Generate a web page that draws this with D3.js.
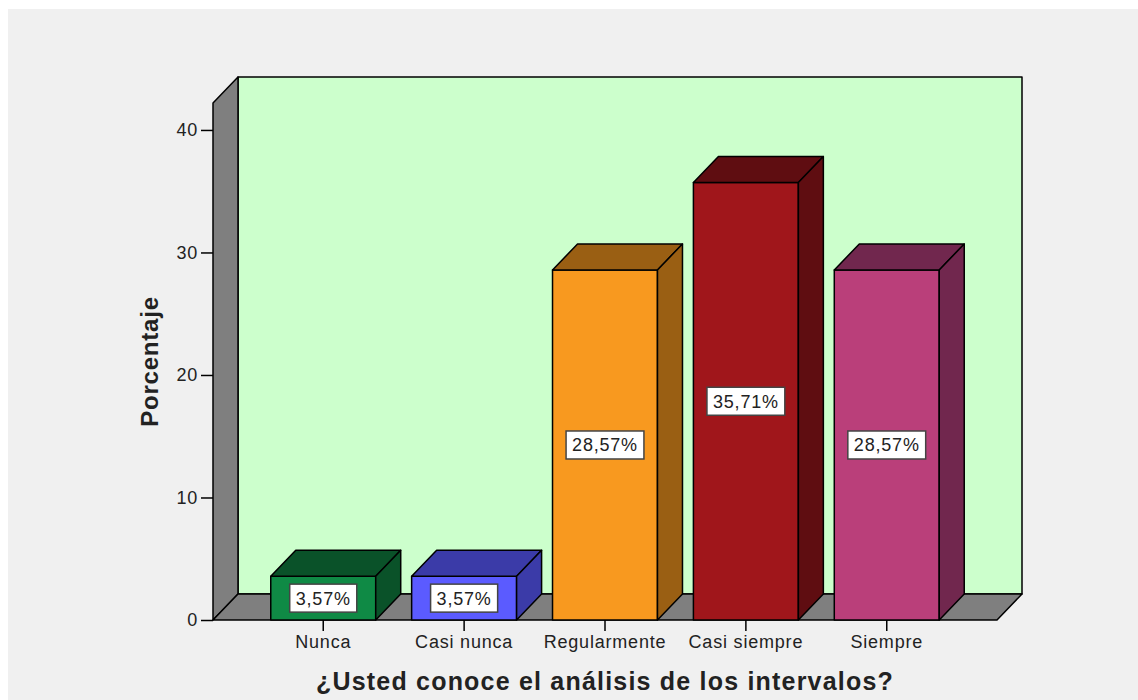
<!DOCTYPE html>
<html>
<head>
<meta charset="utf-8">
<script src="https://cdn.jsdelivr.net/npm/d3@7"></script>
<style>
  body { margin: 0; background: #ffffff; }
  svg text { font-family: 'Liberation Sans', Arial, sans-serif; fill: #222; }
</style>
</head>
<body>
<svg class="chart"></svg>
<script>
// data
let categories = ['Nunca', 'Casi nunca', 'Regularmente', 'Casi siempre', 'Siempre'];
let percentages = [3.57, 3.57, 28.57, 35.71, 28.57];
let valueLabels = ['3,57%', '3,57%', '28,57%', '35,71%', '28,57%'];
let yTicks = [0, 10, 20, 30, 40];
let yTitle = 'Porcentaje';
let xTitle = '¿Usted conoce el análisis de los intervalos?';

let frontColors = ['#0f8a45', '#5b5bff', '#f8991f', '#a0161b', '#ba3f7a'];
let sideColors = ['#0a5229', '#3b3ba8', '#9a5f13', '#5f0d11', '#71274e'];

let width = 1138, height = 700;
let plot = {left: 213, right: 997, bottom: 620, top: 103};
let depth = {dx: 25, dy: 26};

let svg = d3.select('.chart')
  .attr('width', width)
  .attr('height', height);

// grey panel
svg.append('rect')
  .attr('x', 8).attr('y', 9)
  .attr('width', width - 8).attr('height', height - 9)
  .attr('fill', '#f0f0f0');

let xScale = d3.scaleBand()
  .domain(categories)
  .range([plot.left, plot.right])
  .paddingInner(0.255)
  .paddingOuter(0.41);

let yScale = d3.scaleLinear()
  .domain([0, 42.2])
  .range([plot.bottom, plot.top]);

let y0 = yScale(0), yTop = yScale(42.2);
let pts = (arr) => arr.map((p) => p.join(',')).join(' ');

// walls
let walls = svg.append('g').attr('class', 'walls')
  .attr('stroke', '#000').attr('stroke-width', 1.5).attr('stroke-linejoin', 'round');

walls.append('rect')
  .attr('x', plot.left + depth.dx).attr('y', yTop - depth.dy)
  .attr('width', plot.right - plot.left).attr('height', y0 - yTop)
  .attr('fill', '#ccffcc');

walls.append('polygon')
  .attr('points', pts([[plot.left, y0], [plot.left, yTop], [plot.left + depth.dx, yTop - depth.dy], [plot.left + depth.dx, y0 - depth.dy]]))
  .attr('fill', '#7f7f7f');

walls.append('polygon')
  .attr('points', pts([[plot.left, y0], [plot.right, y0], [plot.right + depth.dx, y0 - depth.dy], [plot.left + depth.dx, y0 - depth.dy]]))
  .attr('fill', '#7f7f7f');

// 3d bars
let bars = svg.append('g').attr('class', 'bars')
  .selectAll('.bar')
  .data(categories)
  .enter()
  .append('g')
  .attr('class', 'bar')
  .attr('stroke', '#000').attr('stroke-width', 1.5).attr('stroke-linejoin', 'round');

bars.append('rect')
  .attr('x', (d) => xScale(d))
  .attr('y', (d, i) => yScale(percentages[i]))
  .attr('width', xScale.bandwidth())
  .attr('height', (d, i) => y0 - yScale(percentages[i]))
  .attr('fill', (d, i) => frontColors[i]);

bars.append('polygon')
  .attr('points', (d, i) => {
    let x0 = xScale(d), x1 = x0 + xScale.bandwidth(), yt = yScale(percentages[i]);
    return pts([[x0, yt], [x0 + depth.dx, yt - depth.dy], [x1 + depth.dx, yt - depth.dy], [x1, yt]]);
  })
  .attr('fill', (d, i) => sideColors[i]);

bars.append('polygon')
  .attr('points', (d, i) => {
    let x1 = xScale(d) + xScale.bandwidth(), yt = yScale(percentages[i]);
    return pts([[x1, yt], [x1 + depth.dx, yt - depth.dy], [x1 + depth.dx, y0 - depth.dy], [x1, y0]]);
  })
  .attr('fill', (d, i) => sideColors[i]);

// value labels in white boxes
let labels = svg.append('g').attr('class', 'labels')
  .selectAll('.value-label')
  .data(categories)
  .enter()
  .append('g')
  .attr('class', 'value-label')
  .attr('transform', (d, i) => 'translate(' + (xScale(d) + xScale.bandwidth() / 2) + ',' + ((yScale(percentages[i]) + y0) / 2) + ')');

let rects = labels.append('rect')
  .attr('fill', '#fff')
  .attr('stroke', '#444')
  .attr('stroke-width', 1.5);

labels.append('text')
  .attr('text-anchor', 'middle')
  .attr('dy', '0.36em')
  .attr('font-size', 18)
  .attr('letter-spacing', 0.8)
  .text((d, i) => valueLabels[i])
  .each(function () {
    let w = this.getComputedTextLength() + 12;
    d3.select(this.parentNode).select('rect')
      .attr('x', -w / 2).attr('y', -14)
      .attr('width', w).attr('height', 28);
  });

// axes
let yAxis = svg.append('g')
  .attr('class', 'y axis')
  .attr('transform', 'translate(' + plot.left + ',0)')
  .call(d3.axisLeft(yScale).tickValues(yTicks).tickSize(12).tickPadding(3));

let xAxis = svg.append('g')
  .attr('class', 'x axis')
  .attr('transform', 'translate(0,' + y0 + ')')
  .call(d3.axisBottom(xScale).tickSize(11).tickPadding(4));

svg.selectAll('.axis .domain').remove();
svg.selectAll('.axis line').attr('stroke', '#000').attr('stroke-width', 1.5);
svg.selectAll('.axis text')
  .attr('font-family', null)
  .attr('fill', '#222')
  .style('font-size', '18px')
  .style('letter-spacing', '0.8px');

// titles
svg.append('text')
  .attr('transform', 'translate(158,' + ((plot.top + plot.bottom) / 2) + ') rotate(-90)')
  .attr('text-anchor', 'middle')
  .attr('font-size', 24)
  .attr('font-weight', 'bold')
  .attr('letter-spacing', 0.8)
  .attr('fill', '#111')
  .text(yTitle);

svg.append('text')
  .attr('x', (plot.left + plot.right) / 2)
  .attr('y', 690)
  .attr('text-anchor', 'middle')
  .attr('font-size', 25)
  .attr('font-weight', 'bold')
  .attr('letter-spacing', 1.2)
  .attr('fill', '#111')
  .text(xTitle);
</script>
</body>
</html>
